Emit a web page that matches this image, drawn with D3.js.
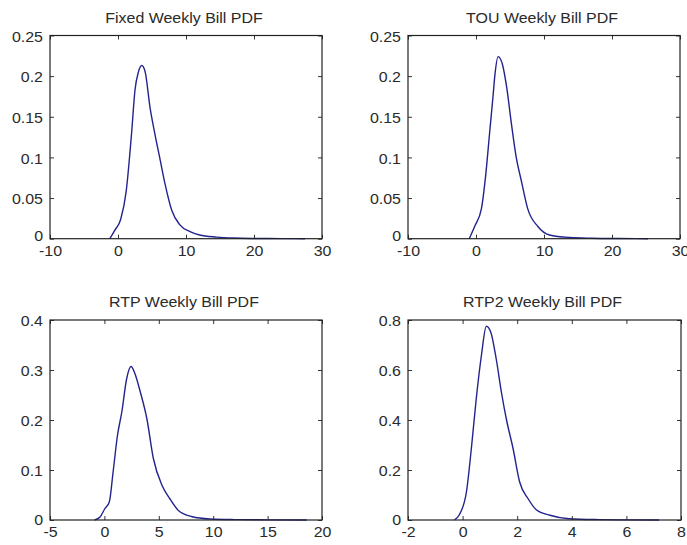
<!DOCTYPE html>
<html>
<head>
<meta charset="utf-8">
<script src="https://cdn.jsdelivr.net/npm/d3@7"></script>
<style>
  html, body { margin: 0; padding: 0; background: #fff; }
  svg { display: block; }
  text { font-family: "Liberation Sans", Arial, sans-serif; fill: #2a2a2a; }
</style>
</head>
<body>
<svg id="chart" width="687" height="545"></svg>
<script>
// ---- Data ----
const titles = ["Fixed Weekly Bill PDF", "TOU Weekly Bill PDF", "RTP Weekly Bill PDF", "RTP2 Weekly Bill PDF"];

const xTicksFixed = [-10, 0, 10, 20, 30];
const yTicksFixed = [0, 0.05, 0.1, 0.15, 0.2, 0.25];
const xTicksTOU   = [-10, 0, 10, 20, 30];
const yTicksTOU   = [0, 0.05, 0.1, 0.15, 0.2, 0.25];
const xTicksRTP   = [-5, 0, 5, 10, 15, 20];
const yTicksRTP   = [0, 0.1, 0.2, 0.3, 0.4];
const xTicksRTP2  = [-2, 0, 2, 4, 6, 8];
const yTicksRTP2  = [0, 0.2, 0.4, 0.6, 0.8];

const fixedX = [-1.2, -0.5, 0.4, 1.2, 2.0, 2.5, 3.0, 3.5, 4.0, 4.7, 5.4, 6.2, 6.9, 7.9, 9.1, 10.6, 12, 14.5, 17, 20, 24, 27.5];
const fixedY = [0, 0.010, 0.024, 0.058, 0.130, 0.183, 0.205, 0.213, 0.205, 0.162, 0.130, 0.097, 0.068, 0.035, 0.017, 0.0086, 0.0046, 0.002, 0.0008, 0.0003, 0.0001, 0];

const touX = [-1.0, -0.2, 0.8, 1.4, 2.0, 2.5, 2.8, 3.25, 3.9, 4.5, 5.2, 5.9, 6.7, 7.6, 9.1, 10.8, 13.8, 17, 21, 25.3];
const touY = [0, 0.015, 0.037, 0.076, 0.130, 0.175, 0.203, 0.224, 0.214, 0.187, 0.142, 0.101, 0.070, 0.037, 0.015, 0.0046, 0.0015, 0.0006, 0.0002, 0];

const rtpX = [-0.9, -0.4, 0.05, 0.45, 0.8, 1.2, 1.6, 2.05, 2.45, 2.8, 3.3, 3.9, 4.5, 5.3, 6.0, 6.8, 8.0, 9.7, 12, 15, 18.6];
const rtpY = [0, 0.006, 0.023, 0.036, 0.096, 0.169, 0.216, 0.283, 0.307, 0.293, 0.256, 0.203, 0.123, 0.069, 0.043, 0.019, 0.007, 0.002, 0.0008, 0.0003, 0];

const rtp2X = [-0.3, -0.13, 0.14, 0.32, 0.5, 0.69, 0.87, 1.03, 1.23, 1.42, 1.6, 1.85, 2.09, 2.4, 2.7, 3.2, 3.9, 5, 6, 7.2];
const rtp2Y = [0, 0.019, 0.112, 0.285, 0.485, 0.659, 0.775, 0.752, 0.645, 0.512, 0.405, 0.285, 0.152, 0.085, 0.041, 0.019, 0.005, 0.0015, 0.0005, 0];

// ---- Layout ----
const boxes = [
  { l: 50,  r: 322, t: 35.5, b: 238.7, titleY: 23 },
  { l: 408, r: 680, t: 35.5, b: 238.7, titleY: 23 },
  { l: 50,  r: 322, t: 320,  b: 520,   titleY: 307 },
  { l: 408, r: 681, t: 320,  b: 520,   titleY: 307 }
];
const panels = [
  { title: titles[0], xt: xTicksFixed, yt: yTicksFixed, xs: fixedX, ys: fixedY },
  { title: titles[1], xt: xTicksTOU,   yt: yTicksTOU,   xs: touX,   ys: touY },
  { title: titles[2], xt: xTicksRTP,   yt: yTicksRTP,   xs: rtpX,   ys: rtpY },
  { title: titles[3], xt: xTicksRTP2,  yt: yTicksRTP2,  xs: rtp2X,  ys: rtp2Y }
];

const SX = 1.14;        // horizontal stretch of the text in the reference
const FS = 14;
const svg = d3.select("#chart");

panels.forEach((p, i) => {
  const B = boxes[i];
  const x = d3.scaleLinear().domain(d3.extent(p.xt)).range([B.l, B.r]);
  const y = d3.scaleLinear().domain(d3.extent(p.yt)).range([B.b, B.t]);
  const g = svg.append("g");

  // curve
  const pts = p.xs.map((v, k) => [v, p.ys[k]]);
  g.append("path")
    .datum(pts)
    .attr("fill", "none")
    .attr("stroke", "#23238f")
    .attr("stroke-width", 1.4)
    .attr("stroke-linejoin", "round")
    .attr("d", d3.line().x(d => x(d[0])).y(d => y(d[1])).curve(d3.curveMonotoneX));

  const styleAxis = sel => {
    sel.select(".domain").remove();
    sel.selectAll(".tick line").attr("stroke", "#333").attr("stroke-width", 1);
    sel.attr("font-size", null).attr("font-family", null);
  };

  // bottom axis with labels
  const gb = g.append("g").attr("transform", `translate(0,${B.b})`)
    .call(d3.axisBottom(x).tickValues(p.xt).tickSize(-4).tickPadding(7).tickFormat(d => String(d)));
  styleAxis(gb);
  gb.selectAll(".tick text")
    .attr("font-size", FS).attr("fill", "#2a2a2a")
    .attr("x", 0)
    .attr("transform", `scale(${SX},1)`);

  // top axis, ticks only
  const gt = g.append("g").attr("transform", `translate(0,${B.t})`)
    .call(d3.axisTop(x).tickValues(p.xt).tickSize(-4).tickFormat(""));
  styleAxis(gt);

  // left axis with labels (the zero label sits a little raised, as in the reference)
  const gl = g.append("g").attr("transform", `translate(${B.l},0)`)
    .call(d3.axisLeft(y).tickValues(p.yt).tickSize(-4).tickPadding(7).tickFormat(d => String(+d.toFixed(3))));
  styleAxis(gl);
  gl.selectAll(".tick text")
    .attr("font-size", FS).attr("fill", "#2a2a2a")
    .attr("x", 0)
    .attr("dy", d => d === 0 ? (i < 2 ? "0.15em" : "0.3em") : "0.4em")
    .attr("transform", `translate(-7,0) scale(${SX},1)`);

  // right axis, ticks only
  const gr = g.append("g").attr("transform", `translate(${B.r},0)`)
    .call(d3.axisRight(y).tickValues(p.yt).tickSize(-4).tickFormat(""));
  styleAxis(gr);

  // frame
  g.append("rect")
    .attr("x", B.l).attr("y", B.t)
    .attr("width", B.r - B.l).attr("height", B.b - B.t)
    .attr("fill", "none").attr("stroke", "#222").attr("stroke-width", 1.2);

  // title
  const cx = (B.l + B.r) / 2 - 2;
  g.append("text")
    .attr("transform", `translate(${cx},${B.titleY}) scale(${SX},1)`)
    .attr("text-anchor", "middle")
    .attr("font-size", FS)
    .text(p.title);
});
</script>
</body>
</html>
